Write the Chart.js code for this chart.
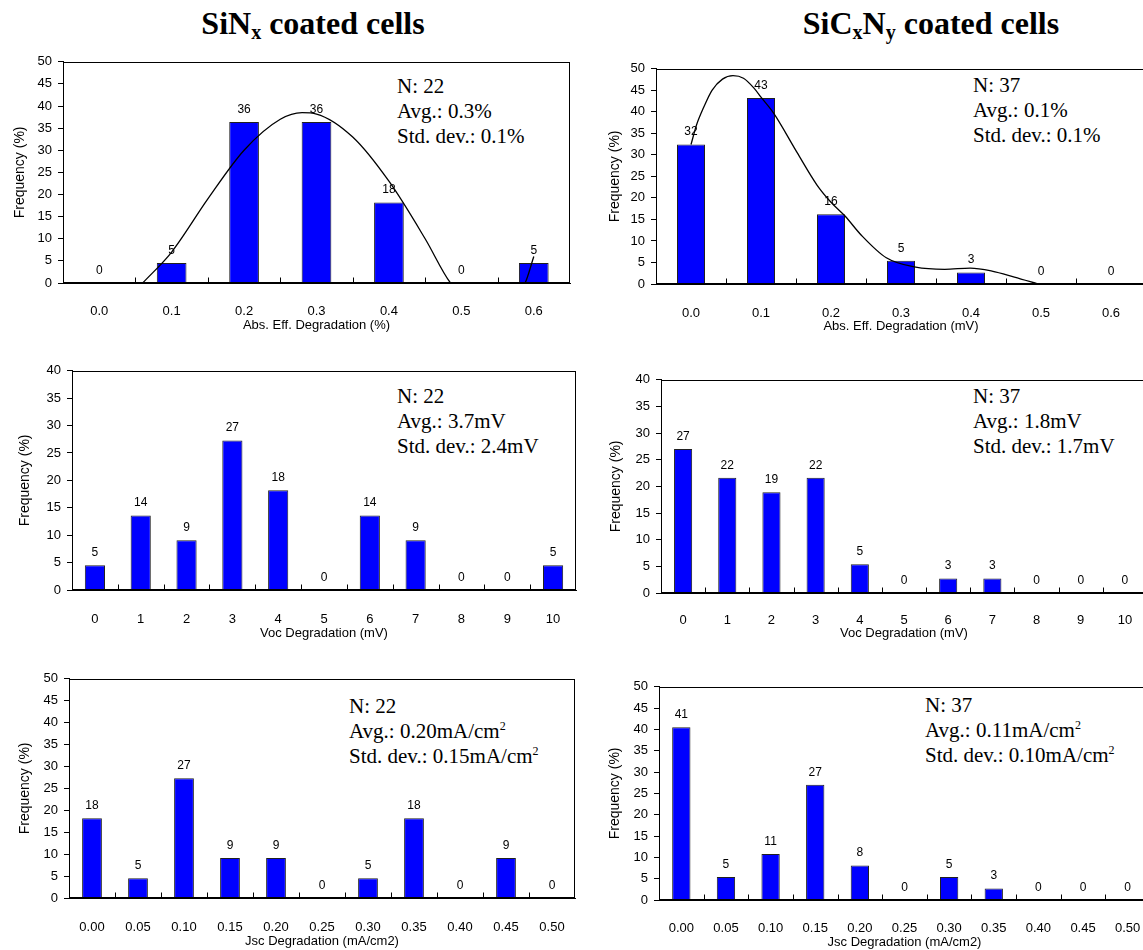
<!DOCTYPE html>
<html>
<head>
<meta charset="utf-8">
<script src="https://cdn.jsdelivr.net/npm/chart.js@4.4.1/dist/chart.umd.min.js"></script>
<style>
  html, body { margin: 0; padding: 0; background: #fff; }
  body { width: 1143px; height: 950px; position: relative; overflow: hidden; }
  canvas { position: absolute; }
  .title { position: absolute; width: 400px; text-align: center; font: bold 32px "Liberation Serif", "Times New Roman", serif; line-height: 40px; white-space: nowrap; color: #000; }
  .title sub { font-size: 20px; vertical-align: -5px; line-height: 0; }
  .stats { position: absolute; font: 21px "Liberation Serif", "Times New Roman", serif; line-height: 25px; white-space: nowrap; color: #000; }
  .stats sup { font-size: 12px; vertical-align: 8px; line-height: 0; }
</style>
</head>
<body>
<div class="title" style="left:113px;top:3px">SiN<sub>x</sub> coated cells</div>
<div class="title" style="left:731px;top:3px">SiC<sub>x</sub>N<sub>y</sub> coated cells</div>

<div class="stats" style="left:397px;top:74px">N: 22<br>Avg.: 0.3%<br>Std. dev.: 0.1%</div>
<div class="stats" style="left:973px;top:73px">N: 37<br>Avg.: 0.1%<br>Std. dev.: 0.1%</div>
<div class="stats" style="left:397px;top:384px">N: 22<br>Avg.: 3.7mV<br>Std. dev.: 2.4mV</div>
<div class="stats" style="left:973px;top:384px">N: 37<br>Avg.: 1.8mV<br>Std. dev.: 1.7mV</div>
<div class="stats" style="left:349px;top:694px">N: 22<br>Avg.: 0.20mA/cm<sup>2</sup><br>Std. dev.: 0.15mA/cm<sup>2</sup></div>
<div class="stats" style="left:925px;top:693px">N: 37<br>Avg.: 0.11mA/cm<sup>2</sup><br>Std. dev.: 0.10mA/cm<sup>2</sup></div>

<canvas id="sinxEffChart"></canvas>
<canvas id="sicnEffChart"></canvas>
<canvas id="sinxVocChart"></canvas>
<canvas id="sicnVocChart"></canvas>
<canvas id="sinxJscChart"></canvas>
<canvas id="sicnJscChart"></canvas>

<script>
const effLabels = ['0.0', '0.1', '0.2', '0.3', '0.4', '0.5', '0.6'];
const vocLabels = ['0', '1', '2', '3', '4', '5', '6', '7', '8', '9', '10'];
const jscLabels = ['0.00', '0.05', '0.10', '0.15', '0.20', '0.25', '0.30', '0.35', '0.40', '0.45', '0.50'];

const sinxEff = [0, 4.5, 36.4, 36.4, 18.2, 0, 4.5];
const sicnEff = [32.4, 43.2, 16.2, 5.4, 2.7, 0, 0];
const sinxVoc = [4.5, 13.6, 9.1, 27.3, 18.2, 0, 13.6, 9.1, 0, 0, 4.5];
const sicnVoc = [27.0, 21.6, 18.9, 21.6, 5.4, 0, 2.7, 2.7, 0, 0, 0];
const sinxJsc = [18.2, 4.5, 27.3, 9.1, 9.1, 0, 4.5, 18.2, 0, 9.1, 0];
const sicnJsc = [40.5, 5.4, 10.8, 27.0, 8.1, 0, 5.4, 2.7, 0, 0, 0];

// fitted curves (x in %, y in frequency); below 0 is clipped
const sinxFitX = [0.06, 0.1, 0.15, 0.2, 0.25, 0.28, 0.3, 0.35, 0.4, 0.45, 0.485, 0.54, 0.588, 0.6];
const sinxFitY = [0, 7, 19, 30, 37, 38.5, 38.2, 33, 23, 10, 0, -8, 0, 6];
const sicnFitX = [0, 0.008, 0.018, 0.03, 0.045, 0.06, 0.075, 0.09, 0.1, 0.118, 0.151, 0.18, 0.2, 0.22, 0.243, 0.279, 0.321, 0.3625, 0.399, 0.43, 0.462, 0.496];
const sicnFitY = [32.4, 37, 41, 45, 47.6, 48.4, 47.8, 45.5, 43.4, 39.7, 30.7, 23, 19, 15.8, 11.4, 6.1, 3.9, 3.4, 3.7, 3.0, 1.6, 0];

const ARIAL = '"Liberation Sans", Arial, sans-serif';

const framePlugin = {
  id: 'frame',
  afterDatasetsDraw(chart) {
    const { ctx, chartArea: a, scales } = chart;
    const x = scales.x;
    ctx.save();
    ctx.strokeStyle = '#000';
    ctx.lineWidth = 1;
    const l = Math.round(a.left) + 0.5, r = Math.round(a.right) - 0.5;
    const t = Math.round(a.top) + 0.5, b = Math.round(a.bottom) - 0.5;
    ctx.strokeRect(l, t, r - l, b - t);
    // tick marks between categories, pointing up into the plot
    ctx.beginPath();
    for (let i = 0; i < x.ticks.length - 1; i++) {
      const px = Math.round((x.getPixelForValue(i) + x.getPixelForValue(i + 1)) / 2) + 0.5;
      ctx.moveTo(px, b);
      ctx.lineTo(px, b - 5);
    }
    ctx.stroke();
    // value labels over bars
    const meta = chart.getDatasetMeta(0);
    const values = chart.data.datasets[0].data;
    ctx.fillStyle = '#000';
    ctx.font = '12px ' + ARIAL;
    ctx.textAlign = 'center';
    ctx.textBaseline = 'middle';
    meta.data.forEach((bar, i) => {
      ctx.fillText(String(Math.round(values[i])), bar.x, bar.y - 12.5);
    });
    ctx.restore();
  }
};

function frequencyChart(id, labels, values, box, fitX, fitY) {
  const canvas = document.getElementById(id);
  const ct = box.top - 6;
  const cb = box.xTitleY + 12;
  canvas.width = box.right + 4 - box.cl;
  canvas.height = cb - ct;
  canvas.style.left = box.cl + 'px';
  canvas.style.top = ct + 'px';

  const n = labels.length;
  const datasets = [{
    type: 'bar',
    xAxisID: 'x',
    data: values,
    backgroundColor: '#0000FF',
    borderColor: '#202020',
    borderWidth: 1,
    barPercentage: box.bar,
    categoryPercentage: 1,
    grouped: false,
    order: 1
  }];
  const scales = {
    x: {
      type: 'category',
      offset: true,
      grid: { display: false },
      border: { display: true, color: '#000', width: 1 },
      ticks: { color: '#000', font: { family: ARIAL, size: 13 }, padding: box.labelY - box.bottom - 7.8, maxRotation: 0, autoSkip: false },
      title: { display: true, text: box.xTitle, color: '#000', font: { family: ARIAL, size: 13 }, padding: { top: 0, bottom: cb - box.xTitleY - 7.8 } },
      afterFit: s => { s.height = cb - box.bottom; }
    },
    y: {
      min: 0,
      max: box.max,
      grid: { drawOnChartArea: false, drawTicks: true, tickLength: 5, color: '#000' },
      border: { display: true, color: '#000', width: 1 },
      ticks: { stepSize: 5, color: '#000', font: { family: ARIAL, size: 13 }, padding: 6 },
      title: { display: true, text: 'Frequency (%)', color: '#000', font: { family: ARIAL, size: 14 }, padding: { top: box.yTitleX - box.cl - 8.4, bottom: 0 } },
      afterFit: s => { s.width = box.left - box.cl; }
    }
  };
  if (fitX) {
    const step = Number(labels[1]) - Number(labels[0]);
    datasets.push({
      type: 'line',
      xAxisID: 'xf',
      data: fitX.map((x, i) => ({ x, y: fitY[i] })),
      borderColor: '#000',
      borderWidth: 1.3,
      pointRadius: 0,
      cubicInterpolationMode: 'monotone',
      fill: false,
      order: 0
    });
    scales.xf = { type: 'linear', display: false, offset: false, grid: { display: false }, min: -step / 2, max: (n - 0.5) * step };
  }

  return new Chart(canvas, {
    type: 'bar',
    data: { labels, datasets },
    options: {
      responsive: false,
      animation: false,
      layout: { padding: { top: 6, right: 4, left: 0, bottom: 0 } },
      scales,
      plugins: { legend: { display: false }, tooltip: { enabled: false } }
    },
    plugins: [framePlugin]
  });
}

frequencyChart('sinxEffChart', effLabels, sinxEff,
  { cl: 0, left: 63, right: 570, top: 54, bottom: 283, labelY: 303, xTitleY: 325, yTitleX: 20, max: 50, bar: 0.41, xTitle: 'Abs. Eff. Degradation (%)' },
  sinxFitX, sinxFitY);
frequencyChart('sicnEffChart', effLabels, sicnEff,
  { cl: 582, left: 656, right: 1146, top: 61, bottom: 284, labelY: 305, xTitleY: 326, yTitleX: 615, max: 50, bar: 0.40, xTitle: 'Abs. Eff. Degradation (mV)' },
  sicnFitX, sicnFitY);
frequencyChart('sinxVocChart', vocLabels, sinxVoc,
  { cl: 0, left: 72, right: 576, top: 363, bottom: 590, labelY: 611, xTitleY: 633, yTitleX: 25, max: 40, bar: 0.44, xTitle: 'Voc Degradation (mV)' });
frequencyChart('sicnVocChart', vocLabels, sicnVoc,
  { cl: 582, left: 661, right: 1147, top: 372, bottom: 593, labelY: 612, xTitleY: 633, yTitleX: 616, max: 40, bar: 0.41, xTitle: 'Voc Degradation (mV)' });
frequencyChart('sinxJscChart', jscLabels, sinxJsc,
  { cl: 0, left: 69, right: 575, top: 671, bottom: 898, labelY: 919, xTitleY: 941, yTitleX: 25, max: 50, bar: 0.43, xTitle: 'Jsc Degradation (mA/cm2)' });
frequencyChart('sicnJscChart', jscLabels, sicnJsc,
  { cl: 582, left: 659, right: 1150, top: 679, bottom: 900, labelY: 920, xTitleY: 942, yTitleX: 615, max: 50, bar: 0.41, xTitle: 'Jsc Degradation (mA/cm2)' });
</script>
</body>
</html>
